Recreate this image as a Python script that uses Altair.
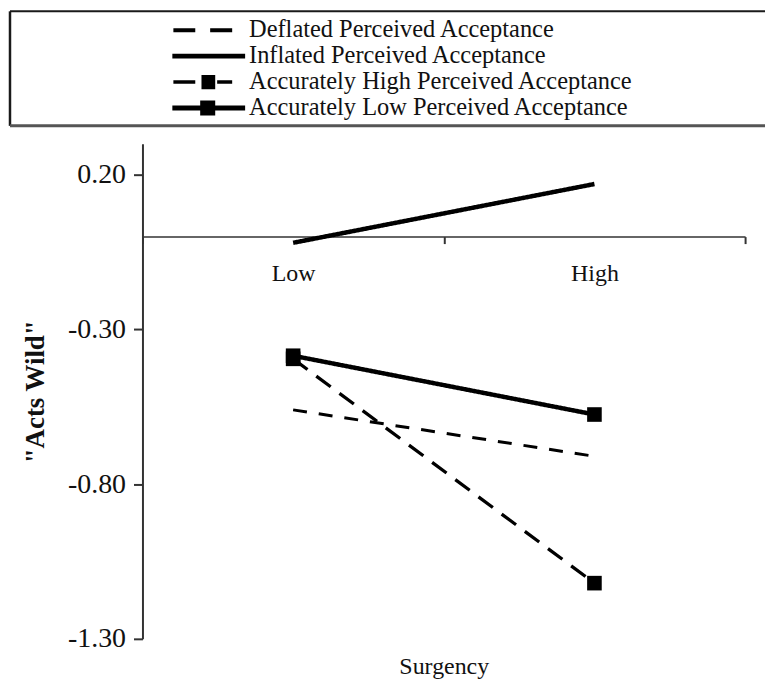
import altair as alt
import pandas as pd

# ---- data ----
levels = ["Low", "High"]
series_names = [
    "Deflated Perceived Acceptance",
    "Inflated Perceived Acceptance",
    "Accurately High Perceived Acceptance",
    "Accurately Low Perceived Acceptance",
]
deflated = [-0.56, -0.71]
inflated = [-0.02, 0.17]
acc_high = [-0.395, -1.12]
acc_low = [-0.385, -0.575]
y_ticks = [0.20, -0.30, -0.80, -1.30]
y_domain = [-1.30, 0.30]
marker_series = series_names[2:]

# ---- styles ----
FONT = "Liberation Serif"
TXT = "#111111"
AX = "#333333"
W, H = 605, 497
line_styles = {
    series_names[0]: {"dash": [14, 12], "width": 3.0},
    series_names[1]: {"dash": [1, 0], "width": 4.5},
    series_names[2]: {"dash": [18, 11], "width": 3.3},
    series_names[3]: {"dash": [1, 0], "width": 4.5},
}
# legend symbols (unit = 13px, symbol centre 13px from its left edge)
legend_paths = [
    "M-0.92,-0.15H0.77V0.15H-0.92Z M1.92,-0.15H3.62V0.15H1.92Z",
    "M-1,-0.19H4.62V0.19H-1Z",
    "M-0.92,-0.13H0.77V0.13H-0.92Z M2.46,-0.13H3.62V0.13H2.46Z M1.25,-0.55H2.31V0.55H1.25Z",
    "M-1,-0.19H4.62V0.19H-1Z M1.15,-0.58H2.31V0.58H1.15Z",
]

rows = []
for name, vals in zip(series_names, [deflated, inflated, acc_high, acc_low]):
    for lev, v in zip(levels, vals):
        rows.append({"series": name, "surgency": lev, "value": v})
df = pd.DataFrame(rows)

zero_offset = -H * (0 - y_domain[0]) / (y_domain[1] - y_domain[0])

x_scale = alt.Scale(type="band", domain=levels, paddingInner=0, paddingOuter=0)
y_scale = alt.Scale(domain=y_domain, nice=False, zero=False)

x_main = alt.X(
    "surgency:N",
    sort=levels,
    scale=x_scale,
    axis=alt.Axis(
        title="Surgency",
        offset=zero_offset,
        tickBand="extent",
        tickSize=7,
        tickWidth=2,
        tickColor=AX,
        domainColor=AX,
        domainWidth=1.5,
        labelAngle=0,
        labelFont=FONT,
        labelFontSize=24,
        labelColor=TXT,
        labelPadding=18,
        titleFont=FONT,
        titleFontSize=24,
        titleFontWeight="normal",
        titleColor=TXT,
        titleY=439,
        titleBaseline="alphabetic",
        grid=False,
    ),
)
y_main = alt.Y(
    "value:Q",
    scale=y_scale,
    axis=alt.Axis(
        values=y_ticks,
        labelExpr="(datum.value < 0 ? '-' : '') + format(abs(datum.value), '.2f')",
        tickSize=9,
        tickWidth=2,
        tickColor=AX,
        domainColor=AX,
        domainWidth=2,
        labelFont=FONT,
        labelFontSize=28,
        labelColor=TXT,
        labelPadding=8,
        labelFlush=False,
        title='"Acts Wild"',
        titleFont=FONT,
        titleFontSize=27,
        titleFontWeight="bold",
        titleColor=TXT,
        titlePadding=18,
        grid=False,
    ),
)
x_plain = alt.X("surgency:N", sort=levels)
y_plain = alt.Y("value:Q")

line_layers = []
for i, name in enumerate(series_names):
    st = line_styles[name]
    line_layers.append(
        alt.Chart(df)
        .transform_filter(alt.FieldEqualPredicate(field="series", equal=name))
        .mark_line(color="black", strokeDash=st["dash"], strokeWidth=st["width"])
        .encode(x=x_main if i == 0 else x_plain, y=y_main if i == 0 else y_plain)
    )

squares = (
    alt.Chart(df)
    .transform_filter(alt.FieldOneOfPredicate(field="series", oneOf=marker_series))
    .mark_square(size=215, color="black", filled=True, opacity=1)
    .encode(x=x_plain, y=y_plain)
)

legend_layer = (
    alt.Chart(df)
    .transform_filter("datum.value > 100")
    .mark_point(filled=True, color="black", size=676)
    .encode(
        x=x_plain,
        y=y_plain,
        shape=alt.Shape(
            "series:N",
            scale=alt.Scale(domain=series_names, range=legend_paths),
            legend=alt.Legend(
                title=None,
                orient="none",
                legendX=30,
                legendY=-127,
                padding=0,
                rowPadding=1,
                symbolOffset=0,
                labelOffset=51,
                labelFont=FONT,
                labelFontSize=24.5,
                labelColor=TXT,
                labelLimit=700,
                symbolSize=676,
                symbolStrokeWidth=0,
                symbolFillColor="black",
                symbolOpacity=1,
            ),
        ),
    )
)

one = pd.DataFrame({"k": [0]})
box_top = alt.Chart(one).mark_rule(color="#1a1a1a", strokeWidth=2).encode(
    x=alt.value(-133), x2=alt.value(625), y=alt.value(-133)
)
box_left = alt.Chart(one).mark_rule(color="#1a1a1a", strokeWidth=2.5).encode(
    x=alt.value(-133), y=alt.value(-133), y2=alt.value(-18)
)
box_bottom = alt.Chart(one).mark_rule(color="#555555", strokeWidth=3).encode(
    x=alt.value(-133), x2=alt.value(625), y=alt.value(-18)
)

chart = (
    alt.layer(box_top, box_left, box_bottom, *line_layers, squares, legend_layer)
    .properties(width=W, height=H, padding=0, background="white")
    .configure_view(stroke="transparent")
)

chart.save("out.html", embed_options={"renderer": "svg", "actions": False})
